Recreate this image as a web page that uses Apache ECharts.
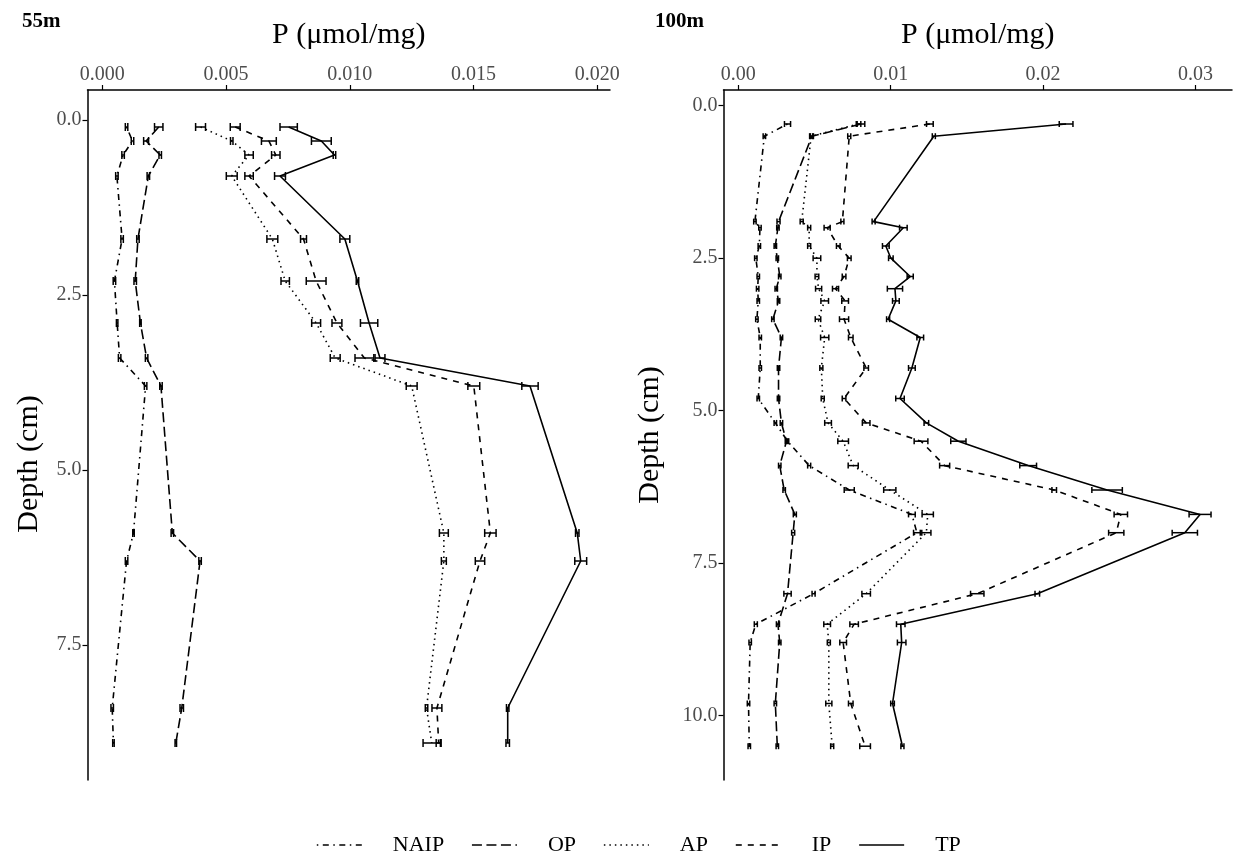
<!DOCTYPE html>
<html>
<head>
<meta charset="utf-8">
<script src="https://cdn.jsdelivr.net/npm/echarts@6/dist/echarts.min.js"></script>
<style>
  html, body { margin: 0; padding: 0; background: #fff; }
  #chart { width: 1242px; height: 857px; }
</style>
</head>
<body>
<div id="chart"></div>
<script>
// Sediment phosphorus fractions vs depth at two stations (55 m and 100 m).
// Concentrations are listed in units of 1e-3 µmol/mg; depths in cm.
const UNIT = 1e-3;
const seriesNames = ['NAIP', 'OP', 'AP', 'IP', 'TP'];

// ---- 55 m station ----
const depth55 = [0.1, 0.3, 0.5, 0.8, 1.7, 2.3, 2.9, 3.4, 3.8, 5.9, 6.3, 8.4, 8.9];
const naip55 = [0.98, 1.22, 0.84, 0.59, 0.80, 0.49, 0.60, 0.70, 1.75, 1.26, 0.98, 0.40, 0.45];
const op55   = [2.28, 1.77, 2.34, 1.86, 1.44, 1.33, 1.54, 1.79, 2.37, 2.83, 3.95, 3.21, 2.97];
const ap55   = [3.97, 5.23, 5.93, 5.23, 6.87, 7.39, 8.64, 9.41, 12.50, 13.80, 13.80, 13.10, 13.31];
const ip55   = [5.37, 6.73, 7.01, 5.93, 8.13, 8.64, 9.48, 10.59, 15.01, 15.68, 15.26, 13.52, 13.59];
const tp55   = [7.53, 8.85, 9.38, 7.18, 9.80, 10.31, 10.78, 11.22, 17.28, 19.19, 19.33, 16.38, 16.38];
// standard errors (half width of the error bars)
const naipErr55 = [0.05, 0.05, 0.05, 0.05, 0.05, 0.05, 0.03, 0.05, 0.05, 0.03, 0.05, 0.05, 0.03];
const opErr55   = [0.17, 0.10, 0.05, 0.05, 0.05, 0.05, 0.03, 0.05, 0.05, 0.05, 0.05, 0.07, 0.03];
const apErr55   = [0.20, 0.05, 0.17, 0.22, 0.22, 0.17, 0.18, 0.20, 0.22, 0.18, 0.10, 0.05, 0.35];
const ipErr55   = [0.20, 0.30, 0.17, 0.17, 0.12, 0.40, 0.20, 0.38, 0.24, 0.23, 0.19, 0.20, 0.10];
const tpErr55   = [0.35, 0.40, 0.05, 0.22, 0.20, 0.05, 0.35, 0.20, 0.33, 0.07, 0.24, 0.05, 0.07];

// ---- 100 m station ----
const depth100 = [0.3, 0.5, 1.9, 2.0, 2.3, 2.5, 2.8, 3.0, 3.2, 3.5, 3.8, 4.3, 4.8, 5.2, 5.5, 5.9, 6.3, 6.7, 7.0, 8.0, 8.5, 8.8, 9.8, 10.5];
const naip100 = [3.23, 1.71, 1.09, 1.42, 1.38, 1.15, 1.31, 1.27, 1.31, 1.22, 1.44, 1.44, 1.31, 2.43, 3.23, 4.65, 7.28, 11.39, 11.72, 4.94, 1.15, 0.78, 0.67, 0.72];
const op100   = [8.05, 4.83, 2.64, 2.60, 2.43, 2.56, 2.72, 2.49, 2.64, 2.27, 2.83, 2.64, 2.64, 2.83, 3.16, 2.72, 3.01, 3.71, 3.60, 3.23, 2.60, 2.72, 2.43, 2.56];
const ap100   = [7.89, 4.78, 4.16, 4.65, 4.65, 5.16, 5.16, 5.27, 5.67, 5.23, 5.67, 5.45, 5.54, 5.89, 6.88, 7.54, 9.94, 12.43, 12.34, 8.39, 5.83, 5.94, 5.94, 6.16];
const ip100   = [12.57, 7.28, 6.83, 5.83, 6.56, 7.28, 6.94, 6.38, 7.01, 6.94, 7.38, 8.39, 6.94, 8.39, 11.99, 13.54, 20.73, 25.10, 24.80, 15.68, 7.60, 6.88, 7.38, 8.32];
const tp100   = [21.51, 12.83, 8.88, 10.83, 9.68, 10.01, 11.28, 10.28, 10.34, 9.83, 11.94, 11.39, 10.61, 12.34, 14.44, 19.02, 24.20, 30.30, 29.30, 19.62, 10.66, 10.72, 10.12, 10.77];
const naipErr100 = [0.20, 0.08, 0.08, 0.08, 0.08, 0.08, 0.08, 0.08, 0.08, 0.08, 0.08, 0.08, 0.08, 0.08, 0.08, 0.10, 0.33, 0.22, 0.22, 0.10, 0.10, 0.08, 0.08, 0.08];
const opErr100   = [0.25, 0.10, 0.10, 0.08, 0.08, 0.08, 0.08, 0.08, 0.08, 0.08, 0.08, 0.08, 0.08, 0.08, 0.08, 0.08, 0.08, 0.10, 0.10, 0.24, 0.10, 0.08, 0.08, 0.08];
const apErr100   = [0.15, 0.10, 0.10, 0.10, 0.10, 0.25, 0.12, 0.20, 0.25, 0.18, 0.27, 0.10, 0.10, 0.22, 0.35, 0.33, 0.40, 0.37, 0.30, 0.28, 0.22, 0.10, 0.20, 0.10];
const ipErr100   = [0.22, 0.10, 0.10, 0.20, 0.12, 0.12, 0.12, 0.20, 0.22, 0.30, 0.15, 0.15, 0.12, 0.25, 0.45, 0.33, 0.15, 0.44, 0.50, 0.44, 0.28, 0.22, 0.15, 0.35];
const tpErr100   = [0.45, 0.10, 0.10, 0.25, 0.22, 0.15, 0.20, 0.50, 0.22, 0.10, 0.22, 0.22, 0.28, 0.15, 0.50, 0.55, 1.00, 0.72, 0.83, 0.15, 0.28, 0.28, 0.12, 0.10];

// tick labels
const xTicks55 = [0, 0.005, 0.010, 0.015, 0.020];
const xTicks100 = [0, 0.01, 0.02, 0.03];
const yTicks55 = [0, 2.5, 5.0, 7.5];
const yTicks100 = [0, 2.5, 5.0, 7.5, 10.0];

// ggplot-like line types
const lineTypes = {
  NAIP: [1.5, 4.5, 6, 4.5],  // dot-dash
  OP:   [10, 4.5],           // long dash
  AP:   [1.5, 4],            // dotted
  IP:   [6, 6],              // dashed
  TP:   'solid'
};

const FONT = '"Liberation Serif", "DejaVu Serif", serif';
const INK = '#000';
const TICK_GREY = '#4d4d4d';

const station55 = { NAIP: [naip55, naipErr55], OP: [op55, opErr55], AP: [ap55, apErr55], IP: [ip55, ipErr55], TP: [tp55, tpErr55] };
const station100 = { NAIP: [naip100, naipErr100], OP: [op100, opErr100], AP: [ap100, apErr100], IP: [ip100, ipErr100], TP: [tp100, tpErr100] };

function buildSeries(station, depths, axisIndex, capHalf) {
  const out = [];
  seriesNames.forEach(name => {
    const [vals, errs] = station[name];
    const pts = vals.map((v, i) => [v * UNIT, depths[i]]);
    out.push({
      type: 'line',
      name: name,
      xAxisIndex: axisIndex,
      yAxisIndex: axisIndex,
      data: pts,
      symbol: 'none',
      showSymbol: false,
      silent: true,
      animation: false,
      lineStyle: { color: INK, width: 1.6, type: lineTypes[name] },
      z: 2
    });
    out.push({
      type: 'custom',
      name: name + ' error',
      xAxisIndex: axisIndex,
      yAxisIndex: axisIndex,
      data: vals.map((v, i) => [v * UNIT, depths[i], errs[i] * UNIT]),
      silent: true,
      animation: false,
      z: 3,
      renderItem: function (params, api) {
        const x = api.value(0), d = api.value(1), e = api.value(2);
        const a = api.coord([x - e, d]);
        const b = api.coord([x + e, d]);
        const st = { stroke: INK, lineWidth: 1.5 };
        return {
          type: 'group',
          children: [
            { type: 'line', shape: { x1: a[0], y1: a[1], x2: b[0], y2: b[1] }, style: st },
            { type: 'line', shape: { x1: a[0], y1: a[1] - capHalf, x2: a[0], y2: a[1] + capHalf }, style: st },
            { type: 'line', shape: { x1: b[0], y1: b[1] - capHalf, x2: b[0], y2: b[1] + capHalf }, style: st }
          ]
        };
      }
    });
  });
  return out;
}

function xAxisCfg(gridIndex, min, max, ticks, digits) {
  return {
    type: 'value',
    gridIndex: gridIndex,
    position: 'top',
    min: min,
    max: max,
    name: 'P (μmol/mg)',
    nameLocation: 'middle',
    nameGap: 40,
    nameTextStyle: { fontFamily: FONT, fontSize: 30, color: INK },
    axisLine: { show: true, onZero: false, lineStyle: { color: INK, width: 1.5 } },
    axisTick: { show: true, length: 5, customValues: ticks, lineStyle: { color: INK, width: 1.2 } },
    axisLabel: {
      customValues: ticks,
      margin: 5,
      fontFamily: FONT, fontSize: 20, color: TICK_GREY,
      formatter: v => Number(v).toFixed(digits)
    },
    splitLine: { show: false }
  };
}

function yAxisCfg(gridIndex, min, max, ticks, name, nameGap) {
  return {
    type: 'value',
    gridIndex: gridIndex,
    inverse: true,
    min: min,
    max: max,
    name: name,
    nameLocation: 'middle',
    nameGap: nameGap,
    nameRotate: 90,
    nameTextStyle: { fontFamily: FONT, fontSize: 30, color: INK },
    axisLine: { show: true, onZero: false, lineStyle: { color: INK, width: 1.5 } },
    axisTick: { show: true, length: 5, customValues: ticks, lineStyle: { color: INK, width: 1.2 } },
    axisLabel: {
      customValues: ticks,
      margin: 6,
      fontFamily: FONT, fontSize: 20, color: TICK_GREY,
      formatter: v => Number(v).toFixed(1)
    },
    splitLine: { show: false }
  };
}

const chart = echarts.init(document.getElementById('chart'), null, { renderer: 'canvas' });

const option = {
  backgroundColor: '#fff',
  animation: false,
  grid: [
    { left: 87.5, top: 90, width: 522.5, height: 690 },
    { left: 723.5, top: 90, width: 508.5, height: 690 }
  ],
  xAxis: [
    xAxisCfg(0, -0.000598, 0.020513, xTicks55, 3),
    xAxisCfg(1, -0.000971, 0.032396, xTicks100, 2)
  ],
  yAxis: [
    yAxisCfg(0, -0.4286, 9.4286, yTicks55, '', 44),
    yAxisCfg(1, -0.2574, 11.054, yTicks100, 'Depth (cm)', 58)
  ],
  legend: {
    data: seriesNames,
    top: 829,
    left: 311,
    itemWidth: 45,
    itemHeight: 18,
    itemGap: 27,
    selectedMode: false,
    itemStyle: { opacity: 0 },
    textStyle: { fontFamily: FONT, fontSize: 22, color: INK, padding: [0, 0, 0, 26] },
    lineStyle: { width: 1.6 }
  },
  graphic: [
    { type: 'text', left: 22, top: 11, style: { text: '55m', font: 'bold 21px ' + FONT, fill: INK } },
    { type: 'text', left: 655, top: 11, style: { text: '100m', font: 'bold 21px ' + FONT, fill: INK } },
    // y title of the 55 m panel
    {
      type: 'text', x: 29, y: 464, rotation: Math.PI / 2,
      style: { text: 'Depth (cm)', font: '30px ' + FONT, fill: INK, align: 'center', verticalAlign: 'middle' }
    }
  ],
  series: [
    ...buildSeries(station55, depth55, 0, 4),
    ...buildSeries(station100, depth100, 1, 3)
  ]
};

chart.setOption(option);
</script>
</body>
</html>
